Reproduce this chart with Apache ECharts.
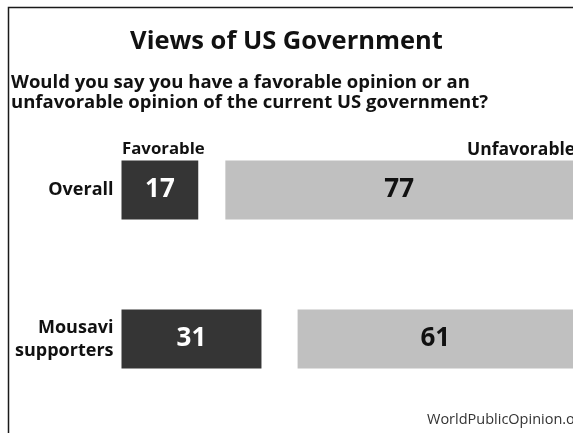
<!DOCTYPE html>
<html><head><meta charset="utf-8">
<script src="https://cdn.jsdelivr.net/npm/echarts@6/dist/echarts.min.js"></script>
<style>html,body{margin:0;padding:0;background:#fff}#c{width:573px;height:433px}</style>
</head><body><div id="c"></div>
<script>
const categories = ['Overall', 'Mousavi\nsupporters'];
const seriesNames = ['Favorable', "Don't know", 'Unfavorable'];
const favorable = [17, 31];
const dontKnow = [6, 8];
const unfavorable = [77, 61];
const titleText = 'Views of US Government';
const questionText = 'Would you say you have a favorable opinion or an\nunfavorable opinion of the current US government?';
const sourceText = 'WorldPublicOpinion.org';

const FONT = 'Open Sans';
const chart = echarts.init(document.getElementById('c'), null, {renderer: 'canvas'});
chart.setOption({
  backgroundColor: '#ffffff',
  animation: false,
  textStyle: {fontFamily: FONT},
  graphic: [{
    type: 'rect', shape: {x: 8.5, y: 7.5, width: 700, height: 600},
    style: {fill: 'none', stroke: '#1a1a1a', lineWidth: 1.5}, silent: true
  }],
  title: [
    {text: titleText, left: 'center', top: 24,
     textStyle: {fontFamily: FONT, fontSize: 25.5, fontWeight: 'bold', color: '#111'}},
    {text: questionText, left: 6, top: 68,
     textStyle: {fontFamily: FONT, fontSize: 18.5, fontWeight: 'bold', color: '#111', lineHeight: 20}},
    {text: seriesNames[0], left: 117, top: 136,
     textStyle: {fontFamily: FONT, fontSize: 16.8, fontWeight: 'bold', color: '#111'}},
    {text: seriesNames[2], left: 462, top: 136,
     textStyle: {fontFamily: FONT, fontSize: 17.5, fontWeight: 'bold', color: '#111'}},
    {text: sourceText, left: 422, top: 407,
     textStyle: {fontFamily: FONT, fontSize: 14.5, fontWeight: 'normal', color: '#333'}}
  ],
  grid: {left: 121.5, right: -4.5, top: 115.5, bottom: 19.5, containLabel: false},
  xAxis: {type: 'value', min: 0, max: 100, show: false},
  yAxis: {
    type: 'category', data: categories, inverse: true,
    axisLine: {show: false}, axisTick: {show: false},
    axisLabel: {margin: 8, fontFamily: FONT, fontSize: 18, fontWeight: 'bold', color: '#111', lineHeight: 23, align: 'right'}
  },
  series: [
    {name: seriesNames[0], type: 'bar', stack: 's', data: favorable, barWidth: 59,
     itemStyle: {color: '#353535'},
     label: {show: true, position: 'inside', color: '#fff', fontFamily: FONT, fontSize: 26, fontWeight: 'bold'}},
    {name: seriesNames[1], type: 'bar', stack: 's', data: dontKnow, barWidth: 59,
     itemStyle: {color: 'rgba(0,0,0,0)'}, label: {show: false}},
    {name: seriesNames[2], type: 'bar', stack: 's', data: unfavorable, barWidth: 59,
     itemStyle: {color: '#c0c0c0'},
     label: {show: true, position: 'inside', color: '#111', fontFamily: FONT, fontSize: 26, fontWeight: 'bold'}}
  ]
});
</script></body></html>
